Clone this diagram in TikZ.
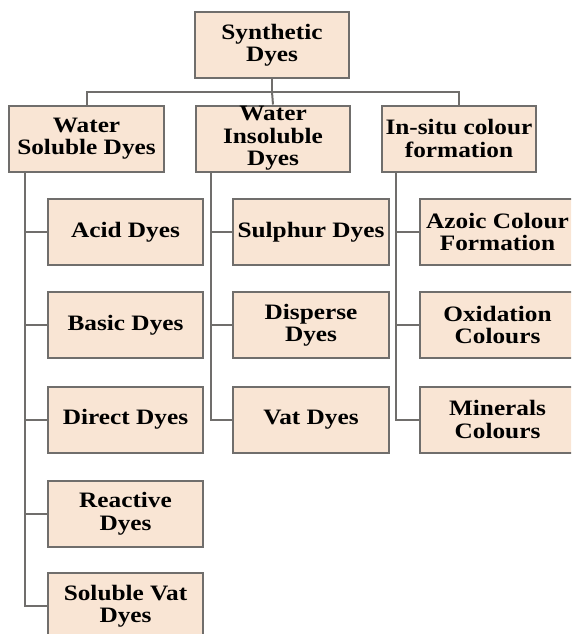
\documentclass[tikz,border=0pt]{standalone}
\usepackage{fontspec}
\setmainfont{Liberation Serif}[FakeStretch=1.15]
\usetikzlibrary{calc}
\definecolor{boxfill}{RGB}{249,229,212}
\definecolor{linegray}{RGB}{112,110,108}
\begin{document}
\begin{tikzpicture}[x=1pt,y=-1pt,
  box/.style={draw=linegray, line width=2pt, fill=boxfill, minimum width=155pt,
    minimum height=66pt, inner sep=0pt, align=center,
    font=\fontsize{22}{22.5}\selectfont\bfseries},
  wide/.style={box, minimum width=158pt},
  conn/.style={draw=linegray, line width=2pt}]
\useasboundingbox (0,0) rectangle (571,634);
\clip (0,0) rectangle (571,634);
\fill[white] (0,0) rectangle (571,634);
% top
\node[box, minimum width=154pt] (top) at (272,45) {Synthetic\\Dyes};
% level 1
\node[box] (ws) at (86.5,138.5) {Water\\Soluble Dyes};
\node[box, minimum width=154pt] (wi) at (273,138.5) {Water\\Insoluble\\Dyes};
\node[box, minimum width=154pt] (is) at (459,138.5) {In-situ colour\\formation};
% left column
\node[box] (acid) at (125.5,232) {Acid Dyes};
\node[box] (basic) at (125.5,325) {Basic Dyes};
\node[box] (direct) at (125.5,419.5) {Direct Dyes};
\node[box] (reactive) at (125.5,513.5) {Reactive\\Dyes};
\node[box] (solvat) at (125.5,606) {Soluble Vat\\Dyes};
% middle column
\node[box, minimum width=156pt] (sulphur) at (311,232) {Sulphur Dyes};
\node[box, minimum width=156pt] (disperse) at (311,325) {Disperse\\Dyes};
\node[box, minimum width=156pt] (vat) at (311,419.5) {Vat Dyes};
% right column
\node[box] (azoic) at (497.5,232) {Azoic Colour\\Formation};
\node[box] (oxid) at (497.5,325) {Oxidation\\Colours};
\node[box] (miner) at (497.5,419.5) {Minerals\\Colours};
% connectors
\coordinate (bus) at ($(top.south)+(0,13)$);
\draw[conn] (top.south) -- (bus);
\draw[conn] (bus) -| (ws.north);
\draw[conn] (bus) -| (is.north);
\draw[conn] (bus) -- (wi.north);
\coordinate (wsA) at ($(ws.south west)+(17,0)$);
\coordinate (wiA) at ($(wi.south west)+(16,0)$);
\coordinate (isA) at ($(is.south west)+(15,0)$);
\foreach \c in {acid,basic,direct,reactive,solvat}{\draw[conn] (wsA) |- (\c.west);}
\foreach \c in {sulphur,disperse,vat}{\draw[conn] (wiA) |- (\c.west);}
\foreach \c in {azoic,oxid,miner}{\draw[conn] (isA) |- (\c.west);}
\end{tikzpicture}
\end{document}
